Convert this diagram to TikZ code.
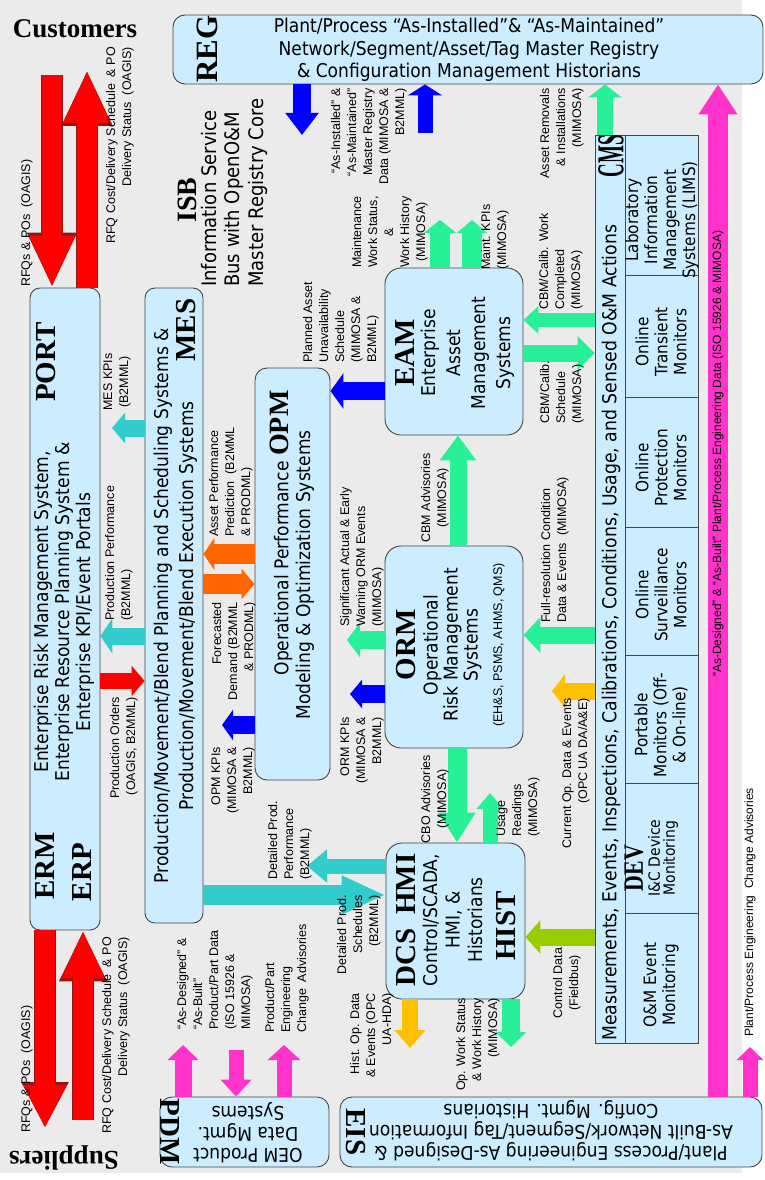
\documentclass[tikz,border=0pt]{standalone}
\usepackage{fontspec}
\setmainfont{Liberation Sans}
\newfontfamily\tah[FakeStretch=0.9]{DejaVu Sans}
\newfontfamily\tnr{Liberation Serif}
\usetikzlibrary{arrows.meta}
\definecolor{bggray}{RGB}{235,235,235}
\definecolor{boxc}{RGB}{204,236,255}
\definecolor{bordc}{RGB}{70,70,70}
\definecolor{redc}{RGB}{255,0,0}
\definecolor{redo}{RGB}{150,20,20}
\definecolor{tealc}{RGB}{51,204,204}
\definecolor{orangec}{RGB}{255,102,0}
\definecolor{bluec}{RGB}{0,0,255}
\definecolor{greenc}{RGB}{40,240,150}
\definecolor{yellowc}{RGB}{255,192,0}
\definecolor{ygreenc}{RGB}{153,204,0}
\definecolor{magc}{RGB}{255,51,204}
\tikzset{
  box/.style={draw=bordc, fill=boxc, line width=0.9pt, rounded corners=12pt, inner sep=0pt},
  lab/.style={font=\fontsize{12.5}{16}\selectfont, inner sep=0pt, rotate=90},
  btx/.style={font=\tah\fontsize{19}{24}\selectfont, inner sep=0pt, rotate=90, align=center},
  htx/.style={font=\tah\fontsize{19}{22.5}\selectfont, inner sep=0pt, align=center},
  ser/.style={font=\tnr\bfseries\fontsize{29}{29}\selectfont, inner sep=0pt},
  serv/.style={ser, rotate=90},
  barrow/.style n args={3}{line width=#1, -{Triangle[width=#2,length=#3]}},
}
\begin{document}
\begin{tikzpicture}[x=1pt,y=-1pt]
\useasboundingbox (0,0) rectangle (765,1180);
\fill[white] (0,0) rectangle (765,1180);
\fill[bggray] (0,0) rectangle (742,1173);

% ---------- boxes ----------
\node[box, minimum width=590pt, minimum height=69pt] (REG) at (468,49.5) {};
\node[box, rounded corners=10pt, minimum width=70pt, minimum height=642pt] (PORT) at (65,609) {};
\node[box, rounded corners=10pt, minimum width=58pt, minimum height=635pt] (MES) at (174,605.5) {};
\node[box, minimum width=75pt, minimum height=412pt] (OPM) at (292.5,574) {};
\node[box, rounded corners=16pt, minimum width=138pt, minimum height=167pt] (EAM) at (454,351.5) {};
\node[box, rounded corners=16pt, minimum width=138pt, minimum height=202pt] (ORM) at (454,647) {};
\node[box, rounded corners=16pt, minimum width=139pt, minimum height=156pt] (DCS) at (455.5,921) {};
\node[box, rounded corners=0pt, minimum width=103pt, minimum height=908pt] (CMS) at (646.5,589) {};
\node[box, minimum width=169pt, minimum height=70pt] (PDM) at (244.5,1132) {};
\node[box, minimum width=422pt, minimum height=70pt] (EIS) at (551,1132) {};

% CMS grid
\draw[bordc, line width=0.9pt] (CMS.north -| 625,0) -- (CMS.south -| 625,0);
\foreach \yy in {275,397,527,655,783,913}
  \draw[bordc, line width=0.9pt] (625,\yy) -- (CMS.east |- 0,\yy);

% ---------- coordinates for free arrow ends ----------
\coordinate (cA1) at (52,75);
\coordinate (cA2) at (87,70);
\coordinate (cA3) at (45,1128);
\coordinate (cA4) at (83,1120);
\coordinate (cA7) at (112,428);
\coordinate (cA10) at (222,725);
\coordinate (cA12) at (350,694);
\coordinate (cA13) at (347,640);
\coordinate (cA16) at (490,793);
\coordinate (cA18) at (552,691);
\coordinate (cA20) at (410,1048);
\coordinate (cA21) at (511,1047);
\coordinate (cA22) at (307,866);
\coordinate (cA26) at (440,220);
\coordinate (cA27) at (472,220);
\coordinate (cA28) at (302,135);
\coordinate (cA29) at (425,133);
\coordinate (cA32) at (750,1047);
\coordinate (cA33) at (183,1045);
\coordinate (cA34) at (236,1050);
\coordinate (cA35) at (284,1045);

% ---------- arrows ----------
\draw[redo, barrow={22pt}{46pt}{55pt}] (cA1) -- (PORT.north -| 52,0);
\draw[redc, barrow={20pt}{42pt}{52pt}] (cA1) -- (PORT.north -| 52,0);
\draw[redo, barrow={22pt}{47pt}{56pt}] (PORT.north -| 87,0) -- (cA2);
\draw[redc, barrow={20pt}{43pt}{53pt}] (PORT.north -| 87,0) -- (cA2);
\draw[redo, barrow={22pt}{44pt}{46pt}] (PORT.south -| 45,0) -- (cA3);
\draw[redc, barrow={20pt}{40pt}{43pt}] (PORT.south -| 45,0) -- (cA3);
\draw[redo, barrow={22pt}{44pt}{51pt}] (cA4) -- (PORT.south -| 83,0);
\draw[redc, barrow={20pt}{40pt}{48pt}] (cA4) -- (PORT.south -| 83,0);
\draw[redc, barrow={16pt}{30pt}{13pt}] (PORT.east |- 0,681) -- (MES.west |- 0,681);
\draw[tealc, barrow={17pt}{35pt}{12pt}] (MES.west |- 0,636) -- (PORT.east |- 0,636);
\draw[tealc, barrow={17pt}{30pt}{13pt}] (MES.west |- 0,428) -- (cA7);
\draw[orangec, barrow={20pt}{32pt}{11pt}] (OPM.west |- 0,554) -- (MES.east |- 0,554);
\draw[orangec, barrow={20pt}{30pt}{13pt}] (MES.east |- 0,584) -- (OPM.west |- 0,584);
\draw[bluec, barrow={18pt}{30pt}{11pt}] (OPM.west |- 0,725) -- (cA10);
\draw[bluec, barrow={18pt}{35pt}{13pt}] (EAM.west |- 0,391) -- (OPM.east |- 0,391);
\draw[bluec, barrow={18pt}{28pt}{12pt}] (ORM.west |- 0,694) -- (cA12);
\draw[greenc, barrow={18pt}{34pt}{13pt}] (ORM.west |- 0,640) -- (cA13);
\draw[greenc, barrow={17pt}{35pt}{25pt}] (ORM.north -| 458,0) -- (EAM.south -| 458,0);
\draw[greenc, barrow={19pt}{35pt}{30pt}] (ORM.south -| 457,0) -- (DCS.north -| 457,0);
\draw[greenc, barrow={15pt}{26pt}{16pt}] (DCS.north -| 490,0) -- (cA16);
\draw[greenc, barrow={17pt}{35pt}{17pt}] (CMS.west |- 0,635) -- (ORM.east |- 0,635);
\draw[yellowc, barrow={17pt}{33pt}{13pt}] (CMS.west |- 0,691) -- (cA18);
\draw[ygreenc, barrow={17pt}{33pt}{15pt}] (CMS.west |- 0,937) -- (DCS.east |- 0,937);
\draw[yellowc, barrow={16pt}{30pt}{18pt}] (DCS.south -| 410,0) -- (cA20);
\draw[greenc, barrow={18pt}{30pt}{15pt}] (DCS.south -| 511,0) -- (cA21);
\draw[tealc, barrow={15pt}{32pt}{20pt}] (DCS.west |- 0,866) -- (cA22);
\draw[tealc, barrow={20pt}{36pt}{44pt}] (MES.east |- 0,895) -- (DCS.west |- 0,895);
\draw[greenc, barrow={17pt}{33pt}{17pt}] (EAM.east |- 0,353) -- (CMS.west |- 0,353);
\draw[greenc, barrow={14pt}{27pt}{15pt}] (CMS.west |- 0,320) -- (EAM.east |- 0,320);
\draw[greenc, barrow={20pt}{32pt}{13pt}] (EAM.north -| 440,0) -- (cA26);
\draw[greenc, barrow={20pt}{30pt}{13pt}] (EAM.north -| 472,0) -- (cA27);
\draw[bluec, barrow={18pt}{32pt}{22pt}] (REG.south -| 302,0) -- (cA28);
\draw[bluec, barrow={15pt}{34pt}{11pt}] (cA29) -- (REG.south -| 425,0);
\draw[greenc, barrow={16pt}{33pt}{13pt}] (CMS.north -| 605,0) -- (REG.south -| 605,0);
\draw[magc, barrow={20pt}{37pt}{30pt}] (EIS.north -| 718,0) -- (REG.south -| 718,0);
\draw[magc, barrow={15pt}{26pt}{13pt}] (EIS.north -| 750,0) -- (cA32);
\draw[magc, barrow={17pt}{30pt}{15pt}] (PDM.north -| 183,0) -- (cA33);
\draw[magc, barrow={15pt}{30pt}{17pt}] (cA34) -- (PDM.north -| 236,0);
\draw[magc, barrow={15pt}{32pt}{15pt}] (PDM.north -| 284,0) -- (cA35);

% ---------- box texts ----------
\node[ser, font=\tnr\bfseries\fontsize{27}{27}\selectfont] (cust) at (75,29) {Customers};
\node[ser, font=\tnr\bfseries\fontsize{27}{27}\selectfont, rotate=180] (supp) at (64,1158) {Suppliers};

\node[serv, font=\tnr\bfseries\fontsize{31}{31}\selectfont] (REGl) at (207,49) {REG};
\node[htx] (REGt) at (469,50) {Plant/Process “As-Installed”\& “As-Maintained”\\Network/Segment/Asset/Tag Master Registry\\\& Configuration Management Historians};

\node[serv] (PORTl) at (46,362) {PORT};
\node[serv] (ERMl) at (45,866) {ERM};
\node[serv] (ERPl) at (82,872) {ERP};
\node[btx, font=\tah\fontsize{19}{21}\selectfont] (PORTt) at (64,612) {Enterprise Risk Management System,\\Enterprise Resource Planning System \&\\Enterprise KPI/Event Portals};

\node[serv] (MESl) at (186,330) {MES};
\node[btx, font=\tah\fontsize{19}{25}\selectfont] (MESt) at (175.5,606) {Production/Movement/Blend Planning and Scheduling Systems \&\\Production/Movement/Blend Execution Systems};

\node[serv, font=\tnr\bfseries\fontsize{28}{28}\selectfont] (ISBl) at (187,200) {ISB};
\node[btx, font=\tah\fontsize{20}{23.5}\selectfont, anchor=west, align=left] (ISBt) at (234,287) {Information Service\\Bus with OpenO\&M\\Master Registry Core};

\node[btx] (OPMt1) at (281,533) {Operational Performance {\tnr\bfseries\fontsize{28}{28}\selectfont OPM}};
\node[btx] (OPMt2) at (305,575) {Modeling \& Optimization Systems};

\node[serv] (EAMl) at (405,353) {EAM};
\node[btx, font=\tah\fontsize{19}{25}\selectfont] (EAMt) at (467.5,353) {Enterprise\\Asset\\Management\\Systems};

\node[serv] (ORMl) at (406,645) {ORM};
\node[btx, font=\tah\fontsize{19}{20}\selectfont] (ORMt) at (452.5,645) {Operational\\Risk Management\\Systems};
\node[lab] (ORMs) at (499,645) {(EH\&S, PSMS, AHMS, QMS)};

\node[serv] (DCSl) at (406,920) {DCS\hspace{14pt}HMI};
\node[btx, font=\tah\fontsize{19}{22.5}\selectfont] (DCSt) at (452.5,920) {Control/SCADA,\\HMI, \&\\Historians};
\node[serv] (HISTl) at (506,926) {HIST};

\node[btx, font=\tah\fontsize{19.2}{20}\selectfont, anchor=west] (CMSh) at (611,1041) {Measurements, Events, Inspections, Calibrations, Conditions, Usage, and Sensed O\&M Actions};
\node[serv, font=\tnr\bfseries\fontsize{38}{38}\selectfont] (CMSl) at (611,156) {\scalebox{0.5}[1]{CMS}};
\node[btx, font=\tah\fontsize{17}{19}\selectfont] (c1) at (662,220) {Laboratory\\Information\\Management\\Systems (LIMS)};
\node[btx, font=\tah\fontsize{17}{19}\selectfont] (c2) at (661,342) {Online\\Transient\\Monitors};
\node[btx, font=\tah\fontsize{17}{19}\selectfont] (c3) at (661,468) {Online\\Protection\\Monitors};
\node[btx, font=\tah\fontsize{17}{19}\selectfont] (c4) at (661,595) {Online\\Surveillance\\Monitors};
\node[btx, font=\tah\fontsize{17}{19}\selectfont] (c5) at (661,725) {Portable\\Monitors (Off-\\\& On-line)};
\node[serv, font=\tnr\bfseries\fontsize{28}{28}\selectfont] (c6l) at (634,868) {\scalebox{0.78}[1]{DEV}};
\node[btx, font=\tah\fontsize{15.5}{15}\selectfont] (c6) at (663,858) {I\&C Device\\Monitoring};
\node[btx, font=\tah\fontsize{17}{19}\selectfont] (c7) at (661,985) {O\&M Event\\Monitoring};

\node[ser, rotate=-90] (PDMl) at (170,1132) {PDM};
\node[htx, font=\tah\fontsize{19}{21}\selectfont, rotate=180] (PDMt) at (248,1133) {OEM Product\\Data Mgmt.\\Systems};
\node[ser, rotate=-90] (EISl) at (356,1132) {EIS};
\node[htx, font=\tah\fontsize{19}{21}\selectfont, rotate=180] (EISt) at (551,1131) {Plant/Process Engineering As-Designed \&\\As-Built Network/Segment/Tag Information\\Config. Mgmt. Historians};

% ---------- labels ----------
\node[lab, anchor=west] (l1) at (27,287) {RFQs \& POs\ \ (OAGIS)};
\node[lab, anchor=east, align=right] (l2) at (120,47) {RFQ Cost/Delivery Schedule\ \ \& PO\\Delivery Status\ \ (OAGIS)};
\node[lab, anchor=west] (l3) at (27,1133) {RFQs \& POs\ \ (OAGIS)};
\node[lab, anchor=east, align=right] (l4) at (116,937) {RFQ Cost/Delivery Schedule\ \ \& PO\\Delivery Status\ \ (OAGIS)};
\node[lab, align=center] (l5) at (117,382) {MES KPIs\\(B2MML)};
\node[lab, anchor=west, align=left] (l6) at (119,621) {Production Performance\\(B2MML)};
\node[lab, anchor=east, align=right] (l7) at (124,697) {Production Orders\\(OAGIS, B2MML)};
\node[lab, anchor=west, align=left] (l8) at (231,537) {Asset Performance\\Prediction\ \ (B2MML\\\& PRODML)};
\node[lab, anchor=east, align=right] (l9) at (234,602) {Forecasted\\Demand (B2MML\\\& PRODML)};
\node[lab, anchor=east, align=right] (l10) at (233,747) {OPM KPIs\\(MIMOSA \&\\B2MML)};
\node[lab, anchor=west, align=left] (l11) at (290,880) {Detailed Prod.\\Performance\\(B2MML)};
\node[lab, anchor=east, align=right] (l12) at (359,895) {Detailed Prod.\\Schedules\\(B2MML)};
\node[lab, anchor=east, align=right] (l13) at (372,993) {Hist. Op. Data\\\& Events (OPC\\UA-HDA)};
\node[lab, anchor=east, align=right] (l14) at (478,998) {Op. Work Status\\\& Work History\\(MIMOSA)};
\node[lab, anchor=west, align=left] (l15) at (341,363) {Planned Asset\\Unavailability\\Schedule\\(MIMOSA \&\\B2MML)};
\node[lab, anchor=west, align=left] (l16) at (362,627) {Significant Actual \& Early\\Warning ORM Events\\(MIMOSA)};
\node[lab, anchor=east, align=right] (l17) at (362,717) {ORM KPIs\\(MIMOSA \&\\B2MML)};
\node[lab, align=center] (l18) at (435,498) {CBM Advisories\\(MIMOSA)};
\node[lab, align=center] (l19) at (435,799) {CBO Advisories\\(MIMOSA)};
\node[lab, anchor=west, align=left] (l20) at (518,837) {Usage\\Readings\\(MIMOSA)};
\node[lab, anchor=west, align=left] (l21) at (555,623) {Full-resolution Condition\\Data \& Events\ \ (MIMOSA)};
\node[lab, anchor=east, align=right] (l22) at (576,698) {Current Op. Data \& Events\\(OPC UA DA/A\&E)};
\node[lab, align=center] (l23) at (567,983) {Control Data\\(Fieldbus)};
\node[lab, anchor=west, align=left] (l24) at (562,424) {CBM/Calib.\\Schedule\\(MIMOSA)};
\node[lab, anchor=west, align=left] (l25) at (561,310) {CBM/Calib. Work\\Completed\\(MIMOSA)};
\node[lab, align=center] (l26) at (390,232) {Maintenance\\Work Status,\\\&\\Work History\\(MIMOSA)};
\node[lab, anchor=west, align=left] (l27) at (495,270) {Maint. KPIs\\(MIMOSA)};
\node[lab, anchor=east, align=right] (l28) at (369,88) {“As-Installed” \&\\“As-Maintained”\\Master Registry\\Data (MIMOSA \&\\B2MML)};
\node[lab, anchor=east, align=right] (l29) at (562,88) {Asset Removals\\\& Installations\\(MIMOSA)};
\node[lab, anchor=west, font=\fontsize{12}{14}\selectfont] (l30) at (718,677) {“As-Designed” \& “As-Built” Plant/Process Engineering Data (ISO 15926 \& MIMOSA)};
\node[lab, anchor=west, font=\fontsize{12}{14}\selectfont] (l31) at (750,1037) {Plant/Process Engineering\ \ Change Advisories};
\node[lab, anchor=west, align=left] (l32) at (215,1030) {“As-Designed” \&\\“As-Built”\\Product/Part Data\\(ISO 15926 \&\\MIMOSA)};
\node[lab, anchor=west, align=left] (l33) at (287,1033) {Product/Part\\Engineering\\Change\ \ Advisories};
\end{tikzpicture}
\end{document}
